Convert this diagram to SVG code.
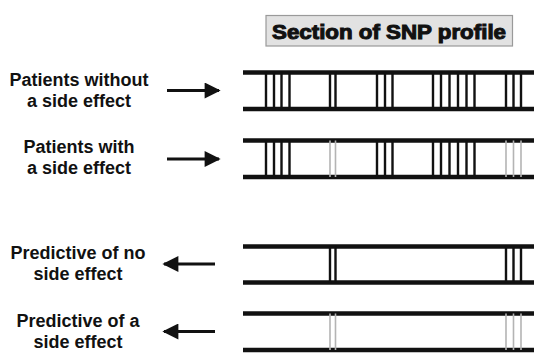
<svg xmlns="http://www.w3.org/2000/svg" width="534" height="353" viewBox="0 0 534 353">
  <style>
    .lbl { font-family: "Liberation Sans", Arial, sans-serif; font-weight: bold; font-size: 18px; fill: #111; text-anchor: middle; }
    .title { font-family: "Liberation Sans", Arial, sans-serif; font-weight: 900; font-size: 19.5px; fill: #111; stroke: #111; stroke-width: 1; }
    .rail { stroke: #111; stroke-width: 4.5; }
    .snp { stroke: #111; stroke-width: 2.4; }
    .faint { stroke: #b4b4b4; stroke-width: 1.6; }
    .arrow { stroke: #111; stroke-width: 3.2; fill: none; }
  </style>
  <defs>
    <marker id="head" viewBox="0 0 10 10" refX="9" refY="5" markerWidth="6" markerHeight="5" markerUnits="strokeWidth" orient="auto">
      <path d="M0,0 L10,5 L0,10 z" fill="#111"/>
    </marker>
  </defs>
  <rect width="534" height="353" fill="#ffffff"/>

  <!-- heading box -->
  <g id="title">
    <rect x="266" y="15.5" width="246.5" height="30.5" fill="#e2e2e2" stroke="#9a9a9a" stroke-width="1.2"/>
    <text class="title" x="272" y="38.5" textLength="234" lengthAdjust="spacingAndGlyphs">Section of SNP profile</text>
  </g>

  <!-- row labels -->
  <g id="label-without">
    <text class="lbl" x="79" y="86">Patients without</text>
    <text class="lbl" x="79" y="107">a side effect</text>
  </g>
  <g id="label-with">
    <text class="lbl" x="79" y="153">Patients with</text>
    <text class="lbl" x="79" y="174">a side effect</text>
  </g>
  <g id="label-predict-no">
    <text class="lbl" x="78" y="258.5">Predictive of no</text>
    <text class="lbl" x="78" y="280">side effect</text>
  </g>
  <g id="label-predict-yes">
    <text class="lbl" x="78" y="326.5">Predictive of a</text>
    <text class="lbl" x="78" y="348">side effect</text>
  </g>

  <!-- SNP profile ladders -->
  <g id="profile-without">
    <line class="rail" x1="243" y1="72.5" x2="534" y2="72.5"/>
    <line class="rail" x1="243" y1="109" x2="534" y2="109"/>
    <path class="snp" d="M266,72.5V109 M274,72.5V109 M281.5,72.5V109 M289.5,72.5V109 M330,72.5V109 M335.5,72.5V109 M377,72.5V109 M385,72.5V109 M392.5,72.5V109 M433,72.5V109 M441,72.5V109 M449.5,72.5V109 M458,72.5V109 M466.5,72.5V109 M474.5,72.5V109 M506,72.5V109 M513.5,72.5V109 M521,72.5V109"/>
  </g>
  <g id="profile-with">
    <line class="rail" x1="243" y1="140.5" x2="534" y2="140.5"/>
    <line class="rail" x1="243" y1="177" x2="534" y2="177"/>
    <path class="snp" d="M266,140.5V177 M274,140.5V177 M281.5,140.5V177 M289.5,140.5V177 M377,140.5V177 M385,140.5V177 M392.5,140.5V177 M433,140.5V177 M441,140.5V177 M449.5,140.5V177 M458,140.5V177 M466.5,140.5V177 M474.5,140.5V177"/>
    <path class="faint" d="M330,140.5V177 M335.5,140.5V177 M506,140.5V177 M513.5,140.5V177 M521,140.5V177"/>
  </g>
  <g id="profile-predict-no">
    <line class="rail" x1="243" y1="246.5" x2="534" y2="246.5"/>
    <line class="rail" x1="243" y1="282.5" x2="534" y2="282.5"/>
    <path class="snp" d="M330,246.5V282.5 M335.5,246.5V282.5 M506,246.5V282.5 M513.5,246.5V282.5 M521,246.5V282.5"/>
  </g>
  <g id="profile-predict-yes">
    <line class="rail" x1="243" y1="313.5" x2="534" y2="313.5"/>
    <line class="rail" x1="243" y1="350" x2="534" y2="350"/>
    <path class="faint" d="M330,313.5V350 M335.5,313.5V350 M506,313.5V350 M513.5,313.5V350 M521,313.5V350"/>
  </g>

  <!-- arrows between labels and profiles -->
  <g id="connectors">
    <line class="arrow" x1="167" y1="90.5" x2="219" y2="90.5" marker-end="url(#head)"/>
    <line class="arrow" x1="167" y1="159" x2="219" y2="159" marker-end="url(#head)"/>
    <line class="arrow" x1="215" y1="264" x2="164" y2="264" marker-end="url(#head)"/>
    <line class="arrow" x1="215" y1="331.5" x2="164" y2="331.5" marker-end="url(#head)"/>
  </g>
</svg>
